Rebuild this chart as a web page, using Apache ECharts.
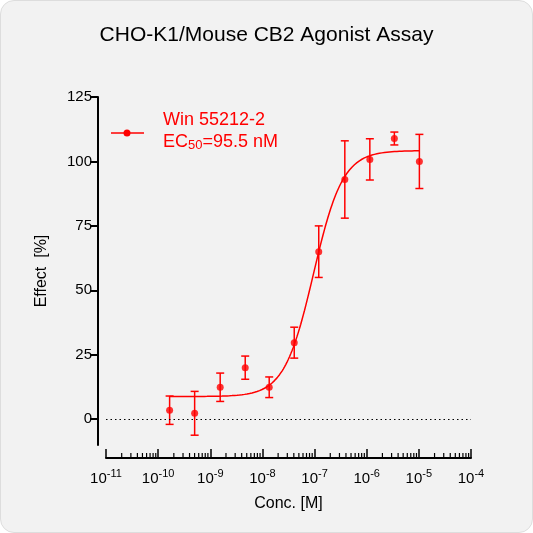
<!DOCTYPE html>
<html><head><meta charset="utf-8">
<script src="https://cdn.jsdelivr.net/npm/echarts@6/dist/echarts.min.js"></script>
<style>html,body{margin:0;background:#fff}#c{width:533px;height:533px;background:#f2f2f2;border-radius:14px;box-sizing:border-box;border:1px solid #ddd}</style>
</head><body><div id="c"></div>
<script>
const logConc = [-9.78, -9.30, -8.81, -8.33, -7.87, -7.39, -6.92, -6.42, -5.94, -5.47, -4.99];
const effect  = [3.5, 2.3, 12.4, 20.0, 12.4, 29.7, 65.0, 93.0, 100.8, 108.9, 100.0];
const errSD   = [5.5, 8.5, 5.5, 4.5, 4.0, 6.0, 10.0, 15.0, 8.0, 2.5, 10.5];
const fitBottom = 8.8, fitTop = 104.2, fitLogEC50 = Math.log10(95.5e-9), fitHill = 1.55;
const xTicks = [-11,-10,-9,-8,-7,-6,-5,-4];
const yTicks = [0,25,50,75,100,125];
const red = '#ff0000';

const curve = [];
for (let i = 0; i <= 200; i++) {
  const x = logConc[0] + (logConc[logConc.length-1]-logConc[0]) * i/200;
  curve.push([x, fitBottom + (fitTop-fitBottom)/(1+Math.pow(10,(fitLogEC50-x)*fitHill))]);
}
const minor = [];
for (let d = -11; d < -4; d++) for (let k = 2; k <= 9; k++) minor.push([d + Math.log10(k), -10]);

const chart = echarts.init(document.getElementById('c'));
chart.setOption({
  animation:false,
  title:{text:'CHO-K1/Mouse CB2 Agonist Assay',left:'center',top:19,textStyle:{fontFamily:'Liberation Sans',fontSize:21,fontWeight:'normal',color:'#000'}},
  grid:{left:105,right:61,top:96,bottom:87},
  xAxis:{type:'value',min:-11,max:-4,interval:1,offset:13,
    axisLine:{onZero:false,lineStyle:{color:'#000',width:2}},
    axisTick:{inside:true,length:9,lineStyle:{color:'#000',width:1.5}},
    splitLine:{show:false},
    axisLabel:{margin:10,formatter:v=>'{b|10}{s|'+String(v)+'}',rich:{b:{fontFamily:'Liberation Sans',fontSize:15,color:'#000'},s:{fontFamily:'Liberation Sans',fontSize:11,color:'#000',verticalAlign:'bottom',padding:[0,0,10,0]}}},
    name:'Conc. [M]',nameLocation:'middle',nameGap:38,nameTextStyle:{fontFamily:'Liberation Sans',fontSize:16,color:'#000'}},
  yAxis:{type:'value',min:-10,max:125,offset:8,
    axisLine:{lineStyle:{color:'#000',width:2}},
    axisTick:{customValues:yTicks,length:8,lineStyle:{color:'#000',width:2}},
    axisLabel:{customValues:yTicks,margin:6,fontFamily:'Liberation Sans',fontSize:15,color:'#000'},
    splitLine:{show:false},
    name:'Effect  [%]',nameLocation:'middle',nameGap:48,nameTextStyle:{fontFamily:'Liberation Sans',fontSize:16,color:'#000'}},
  graphic:[
    {type:'line',shape:{x1:110,y1:132,x2:143,y2:132},style:{stroke:red,lineWidth:1.5}},
    {type:'circle',shape:{cx:126,cy:132,r:3.5},style:{fill:red}},
    {type:'text',left:162,top:108,style:{text:'Win 55212-2\n{a|EC}{s|50}{a|=95.5 nM}',fill:red,fontFamily:'Liberation Sans',fontSize:18,lineHeight:22,
      rich:{a:{fontSize:18,fill:red,fontFamily:'Liberation Sans'},s:{fontSize:13,fill:red,fontFamily:'Liberation Sans',verticalAlign:'top',padding:[8,0,0,0]}}}}
  ],
  series:[
    {type:'custom',clip:false,silent:true,data:minor,renderItem:(p,api)=>{
      const pt=api.coord([api.value(0),api.value(1)]);
      return {type:'line',shape:{x1:pt[0],y1:pt[1]+13,x2:pt[0],y2:pt[1]+13-5},style:{stroke:'#000',lineWidth:1.2}};
    }},
    {type:'line',data:curve,showSymbol:false,lineStyle:{color:red,width:1.5},
      markLine:{silent:true,symbol:'none',label:{show:false},lineStyle:{color:'#000',type:[1.5,3],width:1},data:[{yAxis:0}]}},
    {type:'custom',data:logConc.map((x,i)=>[x,effect[i]-errSD[i],effect[i]+errSD[i]]),renderItem:(p,api)=>{
      const lo=api.coord([api.value(0),api.value(1)]),hi=api.coord([api.value(0),api.value(2)]);
      const w=4;
      return {type:'group',children:[
        {type:'line',shape:{x1:lo[0],y1:lo[1],x2:hi[0],y2:hi[1]},style:{stroke:red,lineWidth:1.5}},
        {type:'line',shape:{x1:lo[0]-w,y1:lo[1],x2:lo[0]+w,y2:lo[1]},style:{stroke:red,lineWidth:1.5}},
        {type:'line',shape:{x1:hi[0]-w,y1:hi[1],x2:hi[0]+w,y2:hi[1]},style:{stroke:red,lineWidth:1.5}}]};
    }},
    {type:'scatter',data:logConc.map((x,i)=>[x,effect[i]]),symbolSize:7,itemStyle:{color:red}}
  ]
});
</script></body></html>
